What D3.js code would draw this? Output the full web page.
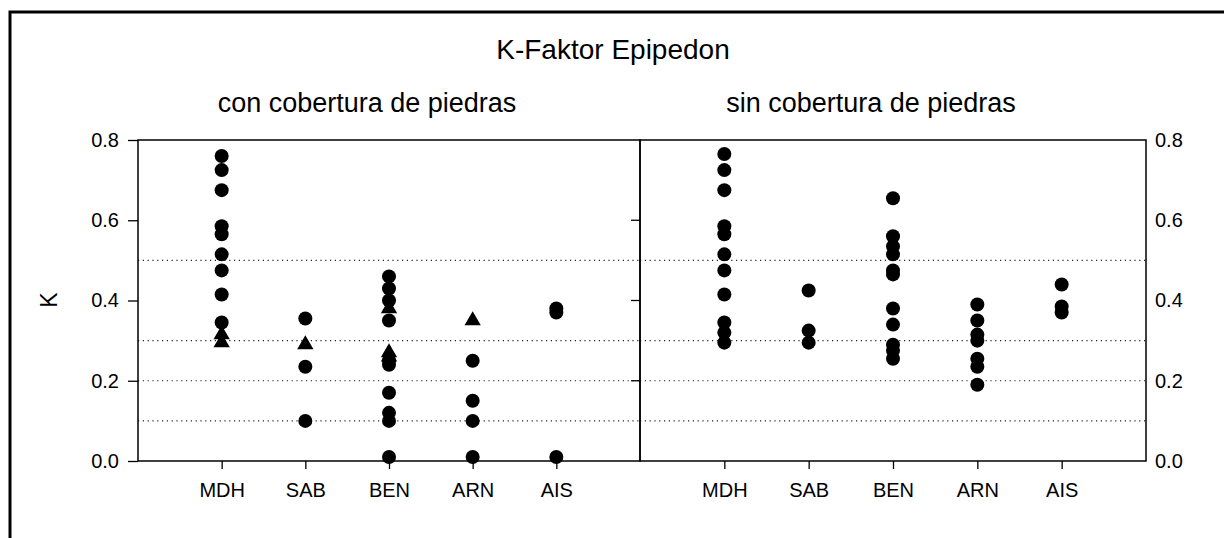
<!DOCTYPE html>
<html>
<head>
<meta charset="utf-8">
<script src="https://cdn.jsdelivr.net/npm/d3@7"></script>
<style>
  body { margin: 0; background: #fff; }
  svg text { font-family: "Liberation Sans", Arial, sans-serif; fill: #000; }
</style>
</head>
<body>
<div id="chart"></div>
<script>
const categories = ["MDH", "SAB", "BEN", "ARN", "AIS"];
const yTicks = [0, 0.2, 0.4, 0.6, 0.8];
const refLines = [0.1, 0.2, 0.3, 0.5];

// con cobertura de piedras
const conCircles = [
  [0.76, 0.725, 0.675, 0.585, 0.565, 0.515, 0.475, 0.415, 0.345],
  [0.355, 0.235, 0.10],
  [0.46, 0.43, 0.40, 0.35, 0.25, 0.24, 0.17, 0.12, 0.10, 0.01],
  [0.25, 0.15, 0.10, 0.01],
  [0.38, 0.37, 0.01]
];
const conTriangles = [
  [0.315, 0.295],
  [0.29],
  [0.38, 0.27, 0.26],
  [0.35],
  []
];

// sin cobertura de piedras
const sinCircles = [
  [0.765, 0.725, 0.675, 0.585, 0.565, 0.515, 0.475, 0.415, 0.345, 0.32, 0.295],
  [0.425, 0.325, 0.295],
  [0.655, 0.56, 0.535, 0.515, 0.475, 0.465, 0.38, 0.34, 0.29, 0.275, 0.255],
  [0.39, 0.35, 0.315, 0.30, 0.255, 0.235, 0.19],
  [0.44, 0.385, 0.37]
];

const width = 1224, height = 538;
const plotTop = 140, plotBottom = 461;
const leftX = [138, 640], rightX = [640, 1146];

const svg = d3.select("#chart").append("svg")
  .attr("width", width)
  .attr("height", height);

// outer frame (open to right and bottom)
svg.append("path")
  .attr("d", "M10," + height + " L10,12 L" + width + ",12")
  .attr("fill", "none")
  .attr("stroke", "#000")
  .attr("stroke-width", 3);

svg.append("text")
  .attr("x", 613).attr("y", 59)
  .attr("text-anchor", "middle")
  .style("font-size", "28px")
  .text("K-Faktor Epipedon");

svg.append("text")
  .attr("x", 367).attr("y", 112)
  .attr("text-anchor", "middle")
  .style("font-size", "27px")
  .text("con cobertura de piedras");

svg.append("text")
  .attr("x", 871).attr("y", 112)
  .attr("text-anchor", "middle")
  .style("font-size", "27px")
  .text("sin cobertura de piedras");

let y = d3.scaleLinear().domain([0, 0.8]).range([plotBottom, plotTop]);

let xLeft = d3.scalePoint().domain(categories).range(leftX).padding(1);
let xRight = d3.scalePoint().domain(categories).range(rightX).padding(1);

function panel(x, range, circles, triangles) {
  let g = svg.append("g");

  g.selectAll(".ref")
    .data(refLines)
    .enter()
    .append("line")
    .attr("x1", range[0]).attr("x2", range[1])
    .attr("y1", d => y(d)).attr("y2", d => y(d))
    .attr("stroke", "#222")
    .attr("stroke-width", 1.2)
    .attr("stroke-dasharray", "1.2,3.6");

  g.append("rect")
    .attr("x", range[0]).attr("y", plotTop)
    .attr("width", range[1] - range[0])
    .attr("height", plotBottom - plotTop)
    .attr("fill", "none")
    .attr("stroke", "#000")
    .attr("stroke-width", 1.5);

  let xAxis = g.append("g")
    .attr("transform", "translate(0," + plotBottom + ")")
    .call(d3.axisBottom(x).tickSize(8).tickSizeOuter(0).tickPadding(14));
  xAxis.select(".domain").remove();
  xAxis.selectAll("line").attr("stroke-width", 1.3);
  xAxis.selectAll("text").style("font-size", "20px").attr("font-family", null);

  let pts = [];
  circles.forEach((vals, i) => vals.forEach(v => pts.push({ cat: categories[i], value: v, shape: "c" })));
  triangles.forEach((vals, i) => vals.forEach(v => pts.push({ cat: categories[i], value: v, shape: "t" })));

  g.selectAll(".circle")
    .data(pts.filter(d => d.shape === "c"))
    .enter()
    .append("circle")
    .attr("cx", d => x(d.cat))
    .attr("cy", d => y(d.value))
    .attr("r", 7)
    .attr("fill", "#000");

  let tri = d3.symbol().type(d3.symbolTriangle).size(115);
  g.selectAll(".tri")
    .data(pts.filter(d => d.shape === "t"))
    .enter()
    .append("path")
    .attr("d", tri)
    .attr("transform", d => "translate(" + x(d.cat) + "," + y(d.value) + ")")
    .attr("fill", "#000");
}

panel(xLeft, leftX, conCircles, conTriangles);
panel(xRight, rightX, sinCircles, sinCircles.map(() => []));

// left y axis
let leftAxis = svg.append("g")
  .attr("transform", "translate(" + leftX[0] + ",0)")
  .call(d3.axisLeft(y).tickValues(yTicks).tickFormat(d3.format(".1f")).tickSize(10).tickSizeOuter(0).tickPadding(9));
leftAxis.select(".domain").remove();
leftAxis.selectAll("line").attr("stroke-width", 1.3);
leftAxis.selectAll("text").style("font-size", "20px").attr("font-family", null);

// inner ticks on the divider
svg.append("g")
  .selectAll("line")
  .data(yTicks.filter(d => d > 0 && d < 0.8))
  .enter()
  .append("line")
  .attr("x1", leftX[1] - 9).attr("x2", leftX[1])
  .attr("y1", d => y(d)).attr("y2", d => y(d))
  .attr("stroke", "#000")
  .attr("stroke-width", 1.3);

// right y axis
let rightAxis = svg.append("g")
  .attr("transform", "translate(" + rightX[1] + ",0)")
  .call(d3.axisRight(y).tickValues(yTicks).tickFormat(d3.format(".1f")).tickSize(0).tickPadding(9));
rightAxis.select(".domain").remove();
rightAxis.selectAll("text").style("font-size", "20px").attr("font-family", null);

svg.append("text")
  .attr("transform", "translate(57,300) rotate(-90)")
  .attr("text-anchor", "middle")
  .style("font-size", "23px")
  .text("K");
</script>
</body>
</html>
